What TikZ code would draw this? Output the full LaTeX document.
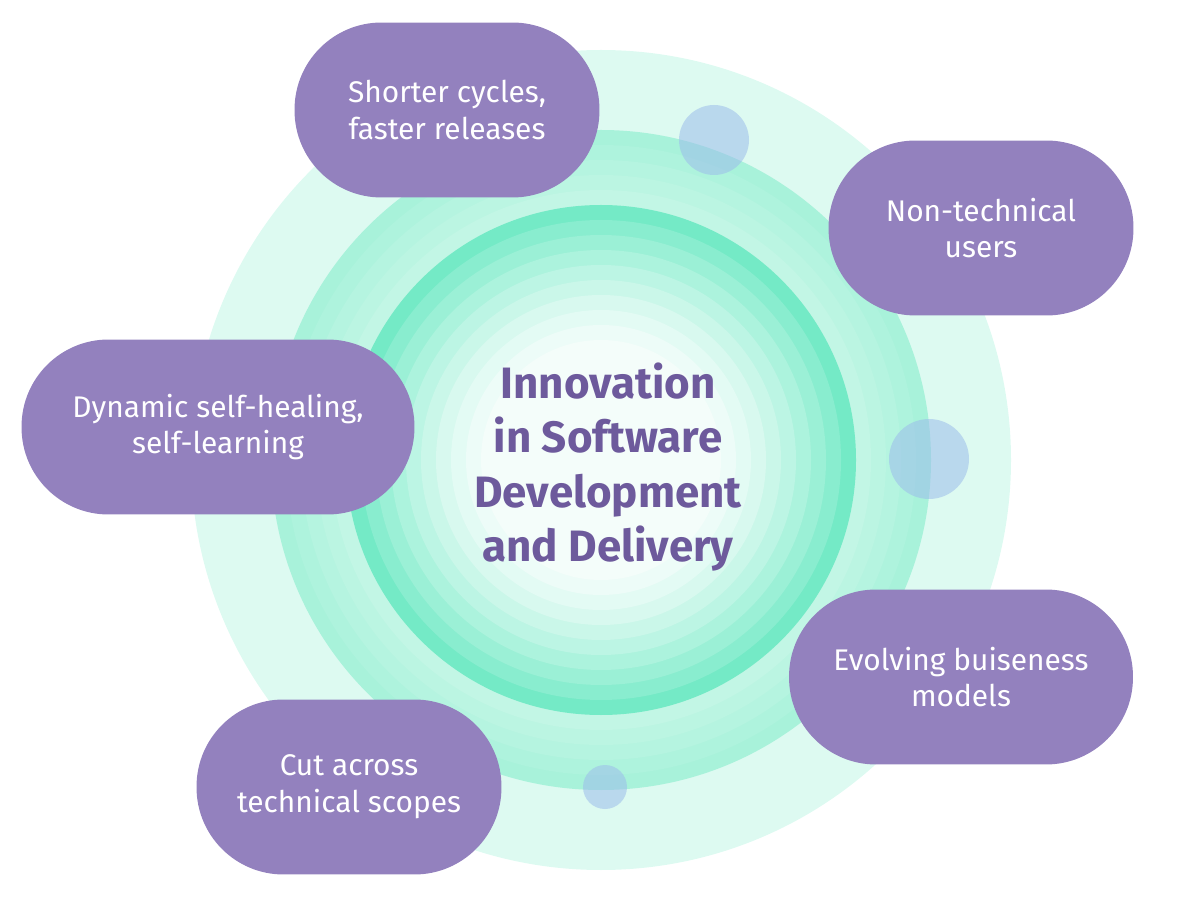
\documentclass[tikz,border=0pt]{standalone}
\usepackage{fontspec}
\setmainfont{Fira Sans}
\usetikzlibrary{positioning}
\definecolor{pill}{HTML}{9381BE}
\definecolor{title}{HTML}{6D5A9C}
\definecolor{ringA}{HTML}{DDFAF1}
\definecolor{ringB}{HTML}{A8F2DA}
\definecolor{core}{HTML}{74EAC6}
\definecolor{dot}{HTML}{9DBDEB}
\tikzset{
  pillbox/.style={fill=pill, rounded corners=1.74cm, minimum width=#1, minimum height=3.5cm,
    text=white, font=\fontsize{17}{21}\selectfont, align=center, inner sep=0pt},
  bubble/.style={fill=dot, fill opacity=.55, draw=none}
}
\begin{document}
\begin{tikzpicture}[x=0.02cm,y=-0.02cm]
  \useasboundingbox (0,0) rectangle (1200,918);
  % rings
  \fill[ringA] (601,460) circle (410);
  \foreach \r/\m in {330/100,315/88,300/76,285/64,270/52}
    \fill[ringB!\m!ringA] (601,460) circle (\r);
  \foreach \r/\m in {255/100,240/85,225/72,210/60,195/48,180/38,165/28,150/20,135/13,120/8}
    \fill[core!\m!white] (601,460) circle (\r);
  % bubbles
  \fill[bubble] (714,140) circle (35);
  \fill[bubble] (929,459) circle (40);
  \fill[bubble] (605,787) circle (22);
  % title
  \node[text=title, font=\bfseries\fontsize{25}{31}\selectfont, align=center] (core) at (608,467)
    {Innovation\\in Software\\Development\\and Delivery};
  % pills
  \node[pillbox=6.1cm] (short) at (447,110) {Shorter cycles,\\faster releases};
  \node[pillbox=6.1cm] (nontech) at (981,228) {Non-technical\\users};
  \node[pillbox=7.86cm] (dynamic) at (218,427) {Dynamic self-healing,\\self-learning};
  \node[pillbox=6.88cm] (evolve) at (961,677) {Evolving buiseness\\models};
  \node[pillbox=6.1cm] (cut) at (349,787) {Cut across\\technical scopes};
\end{tikzpicture}
\end{document}
